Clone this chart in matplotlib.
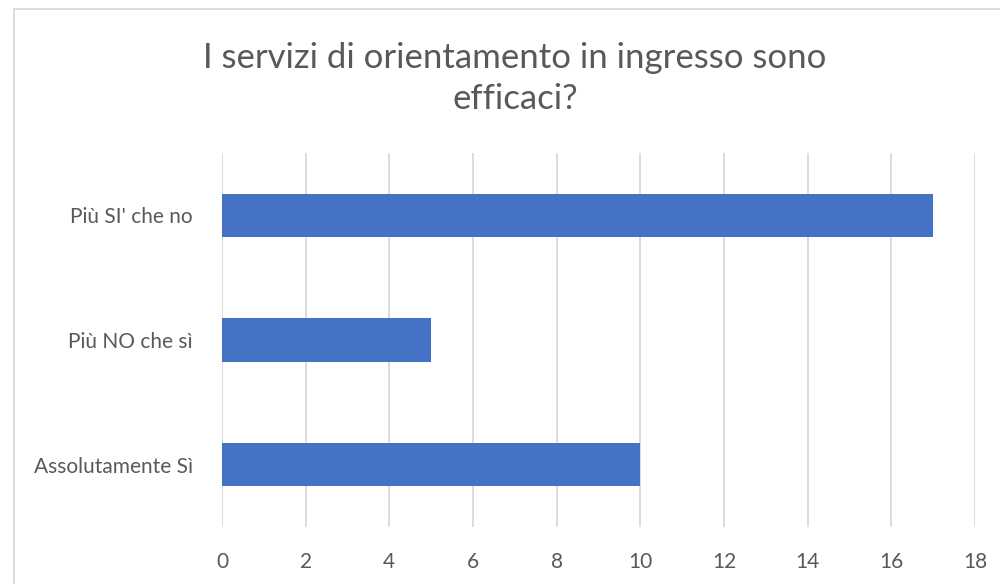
import matplotlib
matplotlib.use("Agg")
import matplotlib.pyplot as plt
from matplotlib.patches import Rectangle

plt.rcParams["font.family"] = ["Lato", "DejaVu Sans"]

# categories listed bottom -> top, as Excel draws them
categories = ["Assolutamente Sì", "Più NO che sì", "Più SI' che no"]
values = [10, 5, 17]
xticks = list(range(0, 19, 2))

TEXT = "#595959"
GRID = "#d9d9d9"
BAR = "#4472c4"

fig = plt.figure(figsize=(10, 5.84), dpi=100)
ax = fig.add_axes([0.222, 0.0976, 0.753, 0.6404])

ax.barh(range(len(categories)), values, height=0.35, color=BAR, zorder=3)
ax.set_xlim(0, 18)
ax.set_ylim(-0.5, len(categories) - 0.5)
ax.set_xticks(xticks)
ax.set_yticks(range(len(categories)))
ax.set_yticklabels(categories)
ax.grid(axis="x", color=GRID, lw=1.3, zorder=0)
for s in ax.spines.values():
    s.set_visible(False)
ax.tick_params(length=0, labelsize=15, colors=TEXT)
ax.tick_params(axis="x", pad=18)
ax.tick_params(axis="y", pad=21)

fig.text(0.515, 0.866, "I servizi di orientamento in ingresso sono\nefficaci?",
         ha="center", va="center", fontsize=25, color=TEXT, linespacing=1.36)

# chart-area frame, cut off at right and bottom like the screenshot
fig.patches.append(Rectangle((0.014, -0.1), 1.2, 1.1 - 9 / 584, transform=fig.transFigure,
                             fill=False, edgecolor=GRID, lw=1.3))

fig.savefig("out.png", dpi=100)
